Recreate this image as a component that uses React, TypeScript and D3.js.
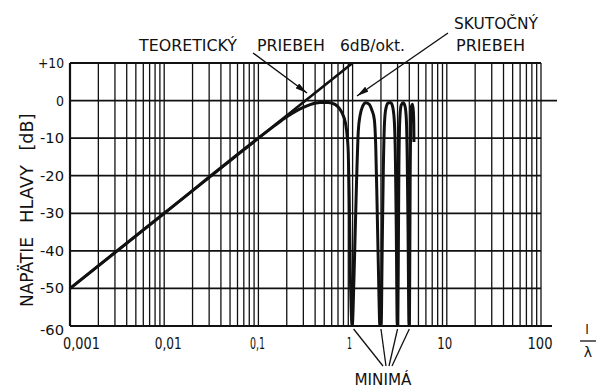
import React from "react";
import * as d3 from "d3";

const xTicks = [0.001, 0.01, 0.1, 1, 10, 100];
const xTickLabels = ["0,001", "0,01", "0,1", "1", "10", "100"];
const yTicks = [10, 0, -10, -20, -30, -40, -50, -60];
const yTickLabels = ["+10", "0", "-10", "-20", "-30", "-40", "-50", "-60"];

// Theoretical response, 6 dB/oct
const theoX = [0.001, 1];
const theoY = [-50, 10];

// Actual response
const realX = [
  0.001, 0.01, 0.1, 0.15, 0.2, 0.25, 0.3, 0.36, 0.45, 0.55, 0.65, 0.72, 0.78, 0.84, 0.88, 0.9, 0.92, 0.945, 0.99,
  1.04, 1.1, 1.15, 1.2, 1.28, 1.38, 1.5, 1.6, 1.7, 1.76, 1.82, 1.88, 1.95,
  2.01, 2.06, 2.12, 2.18, 2.26, 2.4, 2.55, 2.68, 2.78, 2.85, 2.91, 2.98,
  3.02, 3.06, 3.1, 3.17, 3.28, 3.45, 3.6, 3.72, 3.8, 3.88, 3.97,
  4.01, 4.05, 4.09, 4.14, 4.22, 4.32, 4.42, 4.46, 4.48,
];
const realY = [
  -50, -30, -10, -6.6, -4.3, -2.8, -1.8, -1.0, -0.5, -0.5, -1.0, -2.0, -3.5, -6, -10, -14, -25, -45, -60,
  -45, -22, -8, -4, -1.5, -0.6, -1, -2.5, -5, -12, -28, -45, -60,
  -60, -40, -18, -6, -2, -0.6, -0.6, -2, -6, -16, -35, -60,
  -60, -40, -18, -5, -1.2, -0.6, -1.5, -5, -15, -35, -60,
  -60, -40, -18, -5, -1.5, -1.0, -3, -6, -11,
];

const minimaX = [1, 2, 3, 4];

const W = 601;
const H = 389;

export default function App() {
  const x = d3.scaleLog().domain([0.001, 100]).range([70, 541]);
  const y = d3.scaleLinear().domain([-60, 10]).range([326, 63]);

  const gridX: number[] = [];
  for (let e = -3; e <= 1; e++) {
    for (let m = 1; m <= 9; m++) gridX.push(m * Math.pow(10, e));
  }
  gridX.push(100);

  const line = d3
    .line<[number, number]>()
    .x((d) => x(d[0]))
    .y((d) => y(d[1]));
  const smooth = d3
    .line<[number, number]>()
    .x((d) => x(d[0]))
    .y((d) => y(d[1]))
    .curve(d3.curveMonotoneX);

  const theo = theoX.map((v, i) => [v, theoY[i]] as [number, number]);
  const real = realX.map((v, i) => [v, realY[i]] as [number, number]);

  const font = "DejaVu Sans, sans-serif";
  const ink = "#111";

  const yLabelW = (s: string) => (s === "0" ? 8 : s === "+10" ? 26 : 24);
  const xLabelW: Record<string, number> = { "0,001": 37, "0,01": 27, "0,1": 15, "1": 5, "10": 15, "100": 25 };

  const [x0, x1] = x.range();
  const [yb, yt] = y.range();

  return (
    <svg
      width={W}
      height={H}
      viewBox={`0 0 ${W} ${H}`}
      style={{ position: "absolute", left: 0, top: 0, background: "#fff" }}
    >
      <defs>
        <clipPath id="plot">
          <rect x={x0} y={yt - 2} width={x1 - x0} height={yb - yt + 2} />
        </clipPath>
        <marker id="arrow" viewBox="0 0 12 6" refX="12" refY="3" markerWidth="12" markerHeight="6" orient="auto" markerUnits="userSpaceOnUse">
          <path d="M0,0 L12,3 L0,6 Z" fill={ink} />
        </marker>
      </defs>

      {/* vertical grid */}
      {gridX.map((g, i) => (
        <line key={"gx" + i} x1={x(g)} x2={x(g)} y1={yt} y2={yb} stroke={ink} strokeWidth={1.3} />
      ))}
      {/* horizontal grid */}
      {yTicks.map((t, i) => (
        <line
          key={"gy" + i}
          x1={x0}
          x2={t === 0 ? 557 : t === -60 ? 552 : x1}
          y1={y(t)}
          y2={y(t)}
          stroke={ink}
          strokeWidth={t === 10 || t === -60 ? 2.2 : 1.8}
        />
      ))}
      <line x1={x0} x2={x0} y1={yt} y2={yb} stroke={ink} strokeWidth={2.2} />

      {/* curves */}
      <g clipPath="url(#plot)">
        <path d={line(theo) || ""} fill="none" stroke={ink} strokeWidth={2.6} />
        <path d={smooth(real) || ""} fill="none" stroke={ink} strokeWidth={3} strokeLinejoin="round" />
      </g>

      {/* y tick labels */}
      {yTicks.map((t, i) => (
        <text
          key={"yl" + i}
          x={64}
          y={y(t) + 5 + (t === -60 ? 4 : 0)}
          textAnchor="end"
          fontFamily={font}
          fontSize={14}
          fill={ink}
          textLength={yLabelW(yTickLabels[i])}
          lengthAdjust="spacingAndGlyphs"
        >
          {yTickLabels[i]}
        </text>
      ))}

      {/* x tick labels */}
      {xTicks.map((t, i) => {
        const s = xTickLabels[i];
        const first = i === 0;
        return (
          <text
            key={"xl" + i}
            x={first ? x(t) - 7 : x(t) + (i === 1 ? 4 : i === 4 ? -2 : i === 3 ? -3 : -1)}
            y={349}
            textAnchor={first ? "start" : "middle"}
            fontFamily={font}
            fontSize={15}
            fill={ink}
            textLength={xLabelW[s]}
            lengthAdjust="spacingAndGlyphs"
          >
            {s}
          </text>
        );
      })}

      {/* y axis title */}
      <g fontFamily={font} fontSize={17} fill={ink}>
        <text transform="translate(33,272) rotate(-90)" textAnchor="middle" textLength={70} lengthAdjust="spacingAndGlyphs">
          NAPÄTIE
        </text>
        <text transform="translate(33,194) rotate(-90)" textAnchor="middle" textLength={58} lengthAdjust="spacingAndGlyphs">
          HLAVY
        </text>
        <text transform="translate(33,132) rotate(-90)" textAnchor="middle" textLength={37} lengthAdjust="spacingAndGlyphs">
          [dB]
        </text>
      </g>

      {/* x axis title l/λ */}
      <g fontFamily={font} fill={ink}>
        <text x={587} y={334} textAnchor="middle" fontSize={13}>l</text>
        <line x1={580} x2={596} y1={341} y2={341} stroke={ink} strokeWidth={1.3} />
        <text x={588} y={357} textAnchor="middle" fontSize={14}>λ</text>
      </g>

      {/* annotations */}
      <g fontFamily={font} fontSize={16} fill={ink}>
        <text x={139} y={51} textLength={98} lengthAdjust="spacingAndGlyphs">TEORETICKÝ</text>
        <text x={257} y={51} textLength={68} lengthAdjust="spacingAndGlyphs">PRIEBEH</text>
        <text x={340} y={51} textLength={65} lengthAdjust="spacingAndGlyphs">6dB/okt.</text>
        <text x={454} y={29} textLength={84} lengthAdjust="spacingAndGlyphs">SKUTOČNÝ</text>
        <text x={456} y={51} textLength={69} lengthAdjust="spacingAndGlyphs">PRIEBEH</text>
        <text x={383} y={385} textAnchor="middle" fontSize={15} textLength={57} lengthAdjust="spacingAndGlyphs">MINIMÁ</text>
      </g>
      <line x1={253} y1={53} x2={307} y2={93} stroke={ink} strokeWidth={1.4} markerEnd="url(#arrow)" />
      <line x1={448} y1={33} x2={357} y2={96} stroke={ink} strokeWidth={1.4} markerEnd="url(#arrow)" />

      {/* minima leader lines */}
      {minimaX.map((m, i) => (
        <line key={"mn" + i} x1={x(m) + (i === 0 ? 1 : 0)} y1={329} x2={383 + i * 3} y2={366} stroke={ink} strokeWidth={1.3} />
      ))}
    </svg>
  );
}
